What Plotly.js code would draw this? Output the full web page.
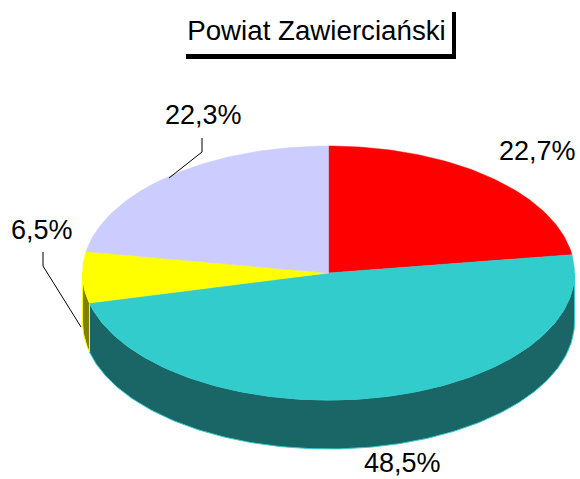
<!DOCTYPE html>
<html>
<head>
<meta charset="utf-8">
<script src="https://cdn.plot.ly/plotly-3.0.1.min.js"></script>
<style>html,body{margin:0;padding:0;background:#fff}#chart{width:580px;height:479px}</style>
</head>
<body>
<div id="chart"></div>
<script>
const chartTitle = "Powiat Zawierciański";
const values = [22.7, 48.5, 6.5, 22.3];
const valueLabels = ["22,7%", "48,5%", "6,5%", "22,3%"];
const topColors = ["#FF0000", "#33CCCC", "#FFFF00", "#CCCCFF"];
const sideColors = ["#800000", "#1A6666", "#808000", "#666680"];

const cx = 328.5, cy = 273, rx = 246, ry = 127, depth = 49;
const labelX = [537, 402, 42, 203];
const labelY = [151, 463, 230, 115];
const leaderX = [[202, 202, 169], [43, 43, 81]];
const leaderY = [[138, 152, 178], [252, 266, 327]];

function pt(deg, dy) {
  const a = deg * Math.PI / 180;
  return [cx + rx * Math.sin(a), cy - ry * Math.cos(a) + dy];
}
function arc(from, to, dy) {
  const n = Math.max(2, Math.ceil(Math.abs(to - from) / 1));
  const out = [];
  for (let i = 0; i <= n; i++) out.push(pt(from + (to - from) * i / n, dy));
  return out;
}
const total = values.reduce((a, b) => a + b, 0);
let cum = 0;
const spans = values.map(v => {
  const s = [cum / total * 360, (cum + v) / total * 360];
  cum += v;
  return s;
});

const traces = [];
// side walls: only the part of the rim facing the viewer (90deg to 270deg)
spans.forEach((s, i) => {
  const a = Math.max(s[0], 90), b = Math.min(s[1], 270);
  if (b <= a) return;
  const poly = arc(a, b, 0).concat(arc(b, a, depth));
  poly.push(poly[0]);
  traces.push({
    type: "scatter", mode: "lines", hoverinfo: "skip", showlegend: false,
    x: poly.map(p => p[0]), y: poly.map(p => p[1]),
    fill: "toself", fillcolor: sideColors[i],
    line: {color: topColors[i], width: 1}
  });
});
// top faces
spans.forEach((s, i) => {
  const poly = [[cx, cy]].concat(arc(s[0], s[1], 0));
  poly.push(poly[0]);
  traces.push({
    type: "scatter", mode: "lines", hoverinfo: "skip", showlegend: false,
    x: poly.map(p => p[0]), y: poly.map(p => p[1]),
    fill: "toself", fillcolor: topColors[i],
    line: {color: topColors[i], width: 0.5}
  });
});
// leader lines
leaderX.forEach((lx, i) => {
  traces.push({
    type: "scatter", mode: "lines", hoverinfo: "skip", showlegend: false,
    x: lx, y: leaderY[i], line: {color: "#000000", width: 1}
  });
});

const font = "Liberation Sans, Arial, sans-serif";
const layout = {
  width: 580, height: 479,
  margin: {l: 0, r: 0, t: 0, b: 0},
  paper_bgcolor: "#FFFFFF", plot_bgcolor: "#FFFFFF",
  showlegend: false,
  title: {
    text: chartTitle, font: {family: font, size: 27.7, color: "#000000"},
    x: 316.5 / 580, xanchor: "center", xref: "paper",
    y: 1 - 30 / 479, yanchor: "middle", yref: "paper"
  },
  xaxis: {visible: false, range: [0, 580], fixedrange: true},
  yaxis: {visible: false, range: [479, 0], fixedrange: true},
  shapes: [
    {type: "rect", xref: "x", yref: "y", x0: 186, x1: 456, y0: 54, y1: 59, fillcolor: "#000", line: {width: 0}},
    {type: "rect", xref: "x", yref: "y", x0: 452, x1: 456, y0: 12, y1: 59, fillcolor: "#000", line: {width: 0}}
  ],
  annotations: valueLabels.map((t, i) => ({
    text: t, x: labelX[i], y: labelY[i], xref: "x", yref: "y",
    xanchor: "center", yanchor: "middle", showarrow: false,
    font: {family: font, size: 27, color: "#000000"}
  }))
};
Plotly.newPlot("chart", traces, layout, {displayModeBar: false, staticPlot: true});
</script>
</body>
</html>
